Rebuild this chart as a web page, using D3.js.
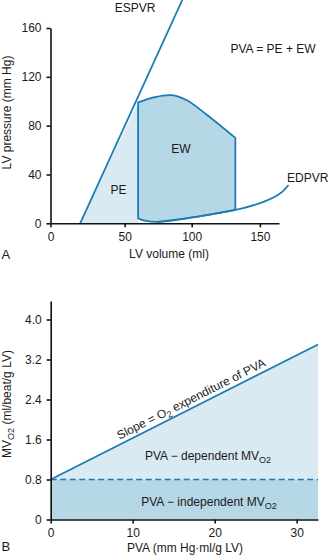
<!DOCTYPE html>
<html>
<head>
<meta charset="utf-8">
<script src="https://cdn.jsdelivr.net/npm/d3@7"></script>
<style>
  body { margin: 0; background: #fff; }
  text { font-family: "Liberation Sans", Arial, sans-serif; fill: #1a1a1a; }
  .axis path, .axis line { stroke: #111; stroke-width: 1.6; }
  .axis text { font-size: 12px; fill: #1a1a1a; }
</style>
</head>
<body>
<div id="chart"></div>
<script>
// Panel A - pressure-volume loop (volume ml, pressure mm Hg)
const volTicks = [0, 50, 100, 150];
const presTicks = [0, 40, 80, 120, 160];
const espvr = [[20, 0], [93, 183]];
const peArea = [[20, 0], [60, 99], [60, 0]];
const loopTop = [[60, 99], [71, 103], [85, 105], [96, 101], [111, 89], [132, 70]];
const loopBottom = [[132, 11], [115, 7.5], [96, 4.1], [74, 1.1], [66, 1.9], [60, 4.1]];
const edpvr = [[74, 1.1], [96, 4.1], [115, 7.5], [132, 10.9], [153, 17.7], [165, 24.6], [171, 31.4]];

// Panel B - MVO2 vs PVA
const pvaTicks = [0, 10, 20, 30];
const mvo2Ticks = [0, 0.8, 1.6, 2.4, 3.2, 4.0];
const slopeLine = [[0, 0.8], [32.6, 3.5]];
const baseLevel = 0.8;
const pvaMax = 32.6;

const blue = '#1b7db3', light = '#d9eaf2', dark = '#b5d7e6';

const svg = d3.select('#chart').append('svg')
  .attr('width', 329)
  .attr('height', 557);

// ---------- panel A ----------
const xA = d3.scaleLinear().domain([0, 50, 100, 164]).range([50.5, 124.7, 191.7, 279]);
const yA = d3.scaleLinear().domain([0, 160]).range([223.3, 28]);
const lineA = d3.line().x(d => xA(d[0])).y(d => yA(d[1]));
const curveA = d3.line().x(d => xA(d[0])).y(d => yA(d[1])).curve(d3.curveCatmullRom);

svg.append('path')
  .attr('d', lineA(peArea) + 'Z')
  .attr('fill', light);

const loopPath = curveA(loopTop) + curveA(loopBottom).replace(/^M/, 'L') + 'Z';
svg.append('path')
  .attr('d', loopPath)
  .attr('fill', dark)
  .attr('stroke', blue)
  .attr('stroke-width', 1.8)
  .attr('stroke-linejoin', 'round');

svg.append('path')
  .attr('d', curveA(edpvr))
  .attr('fill', 'none')
  .attr('stroke', blue)
  .attr('stroke-width', 1.8);

svg.append('path')
  .attr('d', lineA(espvr))
  .attr('fill', 'none')
  .attr('stroke', blue)
  .attr('stroke-width', 1.8);

svg.append('g')
  .attr('class', 'axis')
  .attr('transform', `translate(0,${yA(0)})`)
  .call(d3.axisBottom(xA).tickValues(volTicks).tickSize(4).tickPadding(5).tickSizeOuter(0));
svg.append('g')
  .attr('class', 'axis')
  .attr('transform', `translate(${xA(0)},0)`)
  .call(d3.axisLeft(yA).tickValues(presTicks).tickSize(4).tickPadding(5).tickSizeOuter(0));

svg.append('text').attr('x', 135).attr('y', 12).attr('text-anchor', 'middle')
  .attr('font-size', '12px').text('ESPVR');
svg.append('text').attr('x', 287).attr('y', 182)
  .attr('font-size', '12px').text('EDPVR');
svg.append('text').attr('x', 273).attr('y', 53).attr('text-anchor', 'middle')
  .attr('font-size', '12px').text('PVA = PE + EW');
svg.append('text').attr('x', 181).attr('y', 152.5).attr('text-anchor', 'middle')
  .attr('font-size', '12px').text('EW');
svg.append('text').attr('x', 118.5).attr('y', 194).attr('text-anchor', 'middle')
  .attr('font-size', '12px').text('PE');
svg.append('text').attr('x', 169).attr('y', 257.5).attr('text-anchor', 'middle')
  .attr('font-size', '12px').text('LV volume (ml)');
svg.append('text')
  .attr('transform', 'translate(10.5,112.5) rotate(-90)')
  .attr('text-anchor', 'middle')
  .attr('font-size', '12px').text('LV pressure (mm Hg)');
svg.append('text').attr('x', 1.5).attr('y', 259)
  .attr('font-size', '13px').text('A');

// ---------- panel B ----------
const xB = d3.scaleLinear().domain([0, pvaMax]).range([50.7, 318]);
const yB = d3.scaleLinear().domain([0, 4.37]).range([519.5, 301]);
const lineB = d3.line().x(d => xB(d[0])).y(d => yB(d[1]));

// PVA-dependent region (between base level and slope line)
svg.append('path')
  .attr('d', lineB([[0, baseLevel], slopeLine[0], slopeLine[1], [pvaMax, baseLevel]]) + 'Z')
  .attr('fill', light);
// PVA-independent region
svg.append('path')
  .attr('d', lineB([[0, 0], [0, baseLevel], [pvaMax, baseLevel], [pvaMax, 0]]) + 'Z')
  .attr('fill', dark);

svg.append('path')
  .attr('d', lineB([[0, baseLevel], [pvaMax, baseLevel]]))
  .attr('stroke', blue)
  .attr('stroke-width', 1.7)
  .attr('stroke-dasharray', '6,3.5');
svg.append('path')
  .attr('d', lineB(slopeLine))
  .attr('fill', 'none')
  .attr('stroke', blue)
  .attr('stroke-width', 1.8);

svg.append('g')
  .attr('class', 'axis')
  .attr('transform', `translate(0,${yB(0)})`)
  .call(d3.axisBottom(xB).tickValues(pvaTicks).tickSize(4).tickPadding(5).tickSizeOuter(0));
svg.append('g')
  .attr('class', 'axis')
  .attr('transform', `translate(${xB(0)},0)`)
  .call(d3.axisLeft(yB).tickValues(mvo2Ticks).tickSize(4).tickPadding(5).tickSizeOuter(0)
    .tickFormat(d => d === 0 ? '0' : d3.format('.1f')(d)));

// slope label along the line
const p0 = [xB(slopeLine[0][0]), yB(slopeLine[0][1])];
const p1 = [xB(slopeLine[1][0]), yB(slopeLine[1][1])];
const ang = Math.atan2(p1[1] - p0[1], p1[0] - p0[0]) * 180 / Math.PI;
const midX = xB(17.6);
const midY = yB(slopeLine[0][1] + (slopeLine[1][1] - slopeLine[0][1]) * 17.6 / slopeLine[1][0]);
const slopeText = svg.append('text')
  .attr('transform', `translate(${midX},${midY}) rotate(${ang}) translate(0,-4.5)`)
  .attr('text-anchor', 'middle')
  .attr('font-size', '12px');
slopeText.append('tspan').text('Slope = O');
slopeText.append('tspan').attr('dy', 3).attr('font-size', '9px').text('2');
slopeText.append('tspan').attr('dy', -3).text(' expenditure of PVA');

const depText = svg.append('text').attr('x', 208).attr('y', 460)
  .attr('text-anchor', 'middle').attr('font-size', '12px');
depText.append('tspan').text('PVA \u2212 dependent MV');
depText.append('tspan').attr('dy', 3).attr('font-size', '9px').text('O2');

const indText = svg.append('text').attr('x', 209).attr('y', 505.5)
  .attr('text-anchor', 'middle').attr('font-size', '12px');
indText.append('tspan').text('PVA \u2212 independent MV');
indText.append('tspan').attr('dy', 3).attr('font-size', '9px').text('O2');

svg.append('text').attr('x', 185).attr('y', 552).attr('text-anchor', 'middle')
  .attr('font-size', '12px').text('PVA (mm Hg\u00b7ml/g LV)');
const yLabB = svg.append('text')
  .attr('transform', 'translate(10.5,404) rotate(-90)')
  .attr('text-anchor', 'middle')
  .attr('font-size', '12px');
yLabB.append('tspan').text('MV');
yLabB.append('tspan').attr('dy', 3).attr('font-size', '9px').text('O2');
yLabB.append('tspan').attr('dy', -3).text(' (ml/beat/g LV)');
svg.append('text').attr('x', 1.5).attr('y', 551)
  .attr('font-size', '13px').text('B');
</script>
</body>
</html>
